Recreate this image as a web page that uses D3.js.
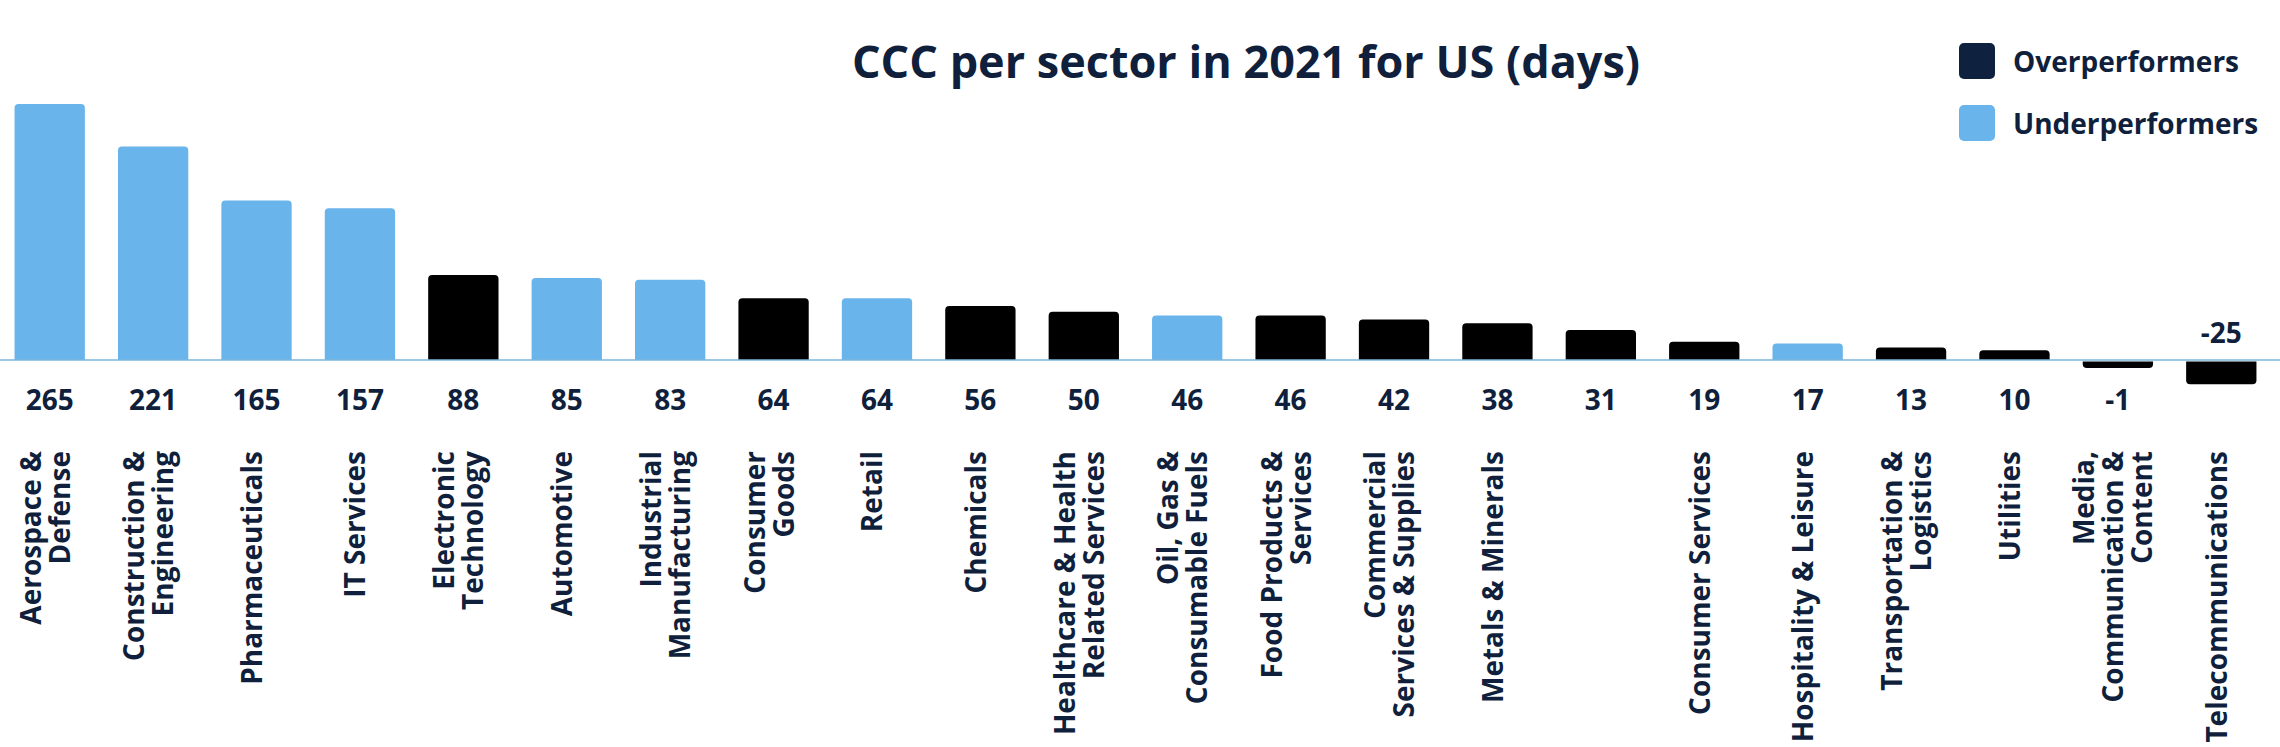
<!DOCTYPE html>
<html>
<head>
<meta charset="utf-8">
<script src="https://cdn.jsdelivr.net/npm/d3@7"></script>
<style>
  html, body { margin: 0; padding: 0; background: #ffffff; }
  svg { display: block; }
  text { font-family: "Open Sans", "Noto Sans", sans-serif; font-weight: 700; fill: #0f1f3c; }
</style>
</head>
<body>
<svg id="chart" width="2280" height="747"></svg>
<script>
// ---- data ----
const title = "CCC per sector in 2021 for US (days)";
const categories = [
  "Aerospace &\nDefense",
  "Construction &\nEngineering",
  "Pharmaceuticals",
  "IT Services",
  "Electronic\nTechnology",
  "Automotive",
  "Industrial\nManufacturing",
  "Consumer\nGoods",
  "Retail",
  "Chemicals",
  "Healthcare & Health\nRelated Services",
  "Oil, Gas &\nConsumable Fuels",
  "Food Products &\nServices",
  "Commercial\nServices & Supplies",
  "Metals & Minerals",
  "",
  "Consumer Services",
  "Hospitality & Leisure",
  "Transportation &\nLogistics",
  "Utilities",
  "Media,\nCommunication &\nContent",
  "Telecommunications"
];
const values = [265, 221, 165, 157, 88, 85, 83, 64, 64, 56, 50, 46, 46, 42, 38, 31, 19, 17, 13, 10, -1, -25];
const groups = ["U", "U", "U", "U", "O", "U", "U", "O", "U", "O", "O", "U", "O", "O", "O", "O", "O", "U", "O", "O", "O", "O"];
const legendKeys = ["O", "U"];
const legendLabels = ["Overperformers", "Underperformers"];

// ---- styles ----
const barColor = { O: "#000000", U: "#69b4eb" };
const swatchColor = { O: "#0e213f", U: "#69b4eb" };

const svg = d3.select("#chart");
const W = 2280;

const data = values.map((v, i) => ({ i, value: v, cat: categories[i], group: groups[i] }));

const x = d3.scaleBand()
  .domain(data.map(d => d.i))
  .range([-2, 2273])
  .paddingInner(0.32)
  .paddingOuter(0.16);

const y = d3.scaleLinear().domain([0, 265]).range([360, 104]);
const y0 = y(0);
const minH = 8;
const r = 4;

function barPath(d) {
  const x0 = x(d.i), w = x.bandwidth();
  let h = Math.abs(y(d.value) - y0);
  if (d.value !== 0) h = Math.max(h, minH);
  if (d.value >= 0) {
    const top = y0 - h;
    return `M${x0},${y0} L${x0},${top + r} Q${x0},${top} ${x0 + r},${top} L${x0 + w - r},${top} Q${x0 + w},${top} ${x0 + w},${top + r} L${x0 + w},${y0} Z`;
  } else {
    const s = y0 + 1.5;
    const bot = y0 + h;
    return `M${x0},${s} L${x0 + w},${s} L${x0 + w},${bot - r} Q${x0 + w},${bot} ${x0 + w - r},${bot} L${x0 + r},${bot} Q${x0},${bot} ${x0},${bot - r} Z`;
  }
}

// bars
svg.append("g").selectAll("path")
  .data(data)
  .join("path")
  .attr("d", barPath)
  .attr("fill", d => barColor[d.group]);

// zero line
svg.append("line")
  .attr("x1", 0).attr("x2", W)
  .attr("y1", y0).attr("y2", y0)
  .attr("stroke", "#7db6dd")
  .attr("stroke-width", 1.5);

// value labels
svg.append("g").selectAll("text")
  .data(data)
  .join("text")
  .attr("x", d => x(d.i) + x.bandwidth() / 2)
  .attr("y", d => d.value < -10 ? y0 - 17 : 410)
  .attr("text-anchor", "middle")
  .attr("font-size", 28)
  .text(d => d.value);

// category labels (rotated, multi-line)
const lineH = 29, capH = 21, labelOffset = -5;
const catG = svg.append("g");
data.forEach(d => {
  if (!d.cat) return;
  const lines = d.cat.split("\n");
  const n = lines.length;
  const cx = x(d.i) + x.bandwidth() / 2;
  const b1 = labelOffset - ((n - 1) * lineH - capH) / 2;
  const t = catG.append("text")
    .attr("transform", `translate(${cx},451) rotate(-90)`)
    .attr("text-anchor", "end")
    .attr("font-size", 28);
  lines.forEach((ln, k) => {
    t.append("tspan")
      .attr("x", 0)
      .attr("y", b1 + k * lineH)
      .text(ln);
  });
});

// title
svg.append("text")
  .attr("x", 1246)
  .attr("y", 78)
  .attr("text-anchor", "middle")
  .attr("font-size", 45)
  .text(title);

// legend
const lg = svg.append("g");
legendKeys.forEach((k, i) => {
  const gy = 43 + i * 62;
  lg.append("rect")
    .attr("x", 1959).attr("y", gy)
    .attr("width", 36).attr("height", 36)
    .attr("rx", 5).attr("ry", 5)
    .attr("fill", swatchColor[k]);
  lg.append("text")
    .attr("x", 2013)
    .attr("y", gy + 29)
    .attr("font-size", 28)
    .text(legendLabels[i]);
});
</script>
</body>
</html>
